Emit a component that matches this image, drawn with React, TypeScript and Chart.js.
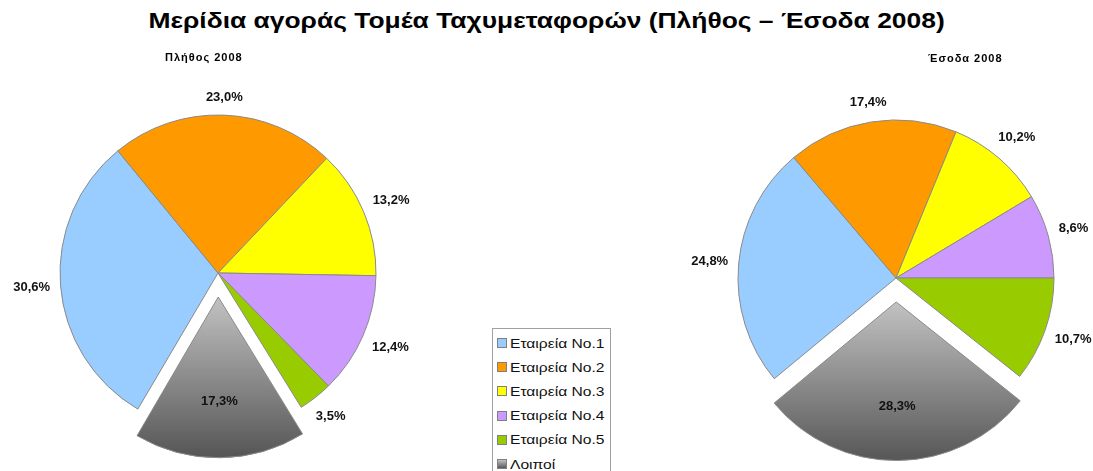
import React, { useEffect, useRef } from "react";
import { Chart, registerables } from "chart.js";

Chart.register(...registerables);

const categories = ["Εταιρεία No.1", "Εταιρεία No.2", "Εταιρεία No.3", "Εταιρεία No.4", "Εταιρεία No.5", "Λοιποί"];
const countShares2008 = [30.6, 23.0, 13.2, 12.4, 3.5, 17.3];
const revenueShares2008 = [24.8, 17.4, 10.2, 8.6, 10.7, 28.3];
const sliceColors = ["#99CCFF", "#FF9900", "#FFFF00", "#CC99FF", "#99CC00"];
const greyTop = "#c2c2c2";
const greyBottom = "#575757";
const mainTitle = "Μερίδια αγοράς Τομέα Ταχυμεταφορών (Πλήθος – Έσοδα 2008)";
const leftTitle = "Πλήθος 2008";
const rightTitle = "Έσοδα 2008";

const RADIUS = 158;
const EXPLODE = 24; // pixels the "Λοιποί" slice is pulled out
const CW = 440;
const CH = 420;
const FONT = '"Liberation Sans", Arial, sans-serif';

const fmt = (v: number) => v.toFixed(1).replace(".", ",") + "%";

const labelPlugin = {
  id: "sliceLabels",
  afterDatasetsDraw(chart: any) {
    const ctx = chart.ctx as CanvasRenderingContext2D;
    const meta = chart.getDatasetMeta(0);
    const ds = chart.data.datasets[0];
    ctx.save();
    ctx.font = `bold 13px ${FONT}`;
    ctx.fillStyle = "#111";
    ctx.textAlign = "center";
    ctx.textBaseline = "middle";
    meta.data.forEach((arc: any, i: number) => {
      const p = arc.getProps(["x", "y", "startAngle", "endAngle", "outerRadius"], true);
      const mid = (p.startAngle + p.endAngle) / 2;
      const text = fmt(ds.data[i]);
      const off = ((ds.offset && ds.offset[i]) || 0) / 4;
      const c = Math.cos(mid);
      const s = Math.sin(mid);
      let d: number;
      if (off > 0) {
        d = off + p.outerRadius * 0.66;
      } else {
        const hw = ctx.measureText(text).width / 2;
        d = p.outerRadius + 10 + Math.abs(c) * hw + Math.abs(s) * 7;
      }
      ctx.fillText(text, p.x + c * d, p.y + s * d);
    });
    ctx.restore();
  },
};

function makeBg(ctxArg: any) {
  const i = ctxArg.dataIndex;
  if (i < sliceColors.length) return sliceColors[i];
  const chart = ctxArg.chart;
  const area = chart.chartArea;
  if (!area) return "#999999";
  const cy = (area.top + area.bottom) / 2;
  const g = chart.ctx.createLinearGradient(0, cy, 0, cy + RADIUS);
  g.addColorStop(0, greyTop);
  g.addColorStop(1, greyBottom);
  return g;
}

function PieCanvas({ values, rotation, left, top }: { values: number[]; rotation: number; left: number; top: number }) {
  const ref = useRef<HTMLCanvasElement | null>(null);
  useEffect(() => {
    if (!ref.current) return;
    const chart = new Chart(ref.current, {
      type: "pie",
      data: {
        labels: categories,
        datasets: [
          {
            data: values,
            backgroundColor: makeBg as any,
            borderColor: "#8a8a8a",
            borderWidth: 1,
            offset: values.map((_, i) => (i === values.length - 1 ? EXPLODE * 4 : 0)),
            hoverOffset: 0,
          } as any,
        ],
      },
      options: {
        responsive: false,
        animation: false,
        rotation,
        radius: RADIUS,
        layout: { padding: 0 },
        plugins: {
          legend: { display: false },
          title: { display: false },
          tooltip: { enabled: false },
        },
        events: [],
      } as any,
      plugins: [labelPlugin],
    });
    return () => chart.destroy();
  }, []);
  return (
    <canvas
      ref={ref}
      width={CW}
      height={CH}
      style={{ position: "absolute", left, top, width: CW, height: CH }}
    />
  );
}

export default function App() {
  return (
    <div
      style={{
        position: "absolute",
        left: 0,
        top: 0,
        width: 1093,
        height: 471,
        overflow: "hidden",
        background: "#ffffff",
        fontFamily: FONT,
      }}
    >
      <PieCanvas values={countShares2008} rotation={210.5} left={218 - CW / 2} top={273 - CH / 2} />
      <PieCanvas values={revenueShares2008} rotation={230.4} left={896 - CW / 2} top={278 - CH / 2} />
      <div
        style={{
          position: "absolute",
          left: 0,
          width: 1093,
          top: 7,
          textAlign: "center",
          fontWeight: "bold",
          fontSize: 22,
          lineHeight: "28px",
          color: "#000",
          whiteSpace: "nowrap",
          transform: "scaleX(1.2)",
          transformOrigin: "546px 0",
        }}
      >
        {mainTitle}
      </div>
      <div
        style={{
          position: "absolute",
          left: 165,
          top: 51,
          fontWeight: "bold",
          fontSize: 11,
          letterSpacing: 1,
          fontFamily: '"Liberation Sans Narrow", "Liberation Sans", Arial, sans-serif',
          color: "#000",
          whiteSpace: "nowrap",
        }}
      >
        {leftTitle}
      </div>
      <div
        style={{
          position: "absolute",
          left: 928,
          top: 52,
          fontWeight: "bold",
          fontSize: 11,
          letterSpacing: 1,
          fontFamily: '"Liberation Sans Narrow", "Liberation Sans", Arial, sans-serif',
          color: "#000",
          whiteSpace: "nowrap",
        }}
      >
        {rightTitle}
      </div>
      <div
        style={{
          position: "absolute",
          left: 492,
          top: 328,
          width: 119,
          height: 170,
          border: "1px solid #a0a0a0",
          boxSizing: "border-box",
          background: "#fff",
        }}
      >
        {categories.map((name, i) => (
          <div
            key={name}
            style={{
              position: "absolute",
              left: 4,
              top: 5 + i * 24.2,
              height: 18,
              display: "flex",
              alignItems: "center",
              whiteSpace: "nowrap",
            }}
          >
            <span
              style={{
                display: "inline-block",
                width: 8,
                height: 8,
                border: "1px solid #808080",
                background:
                  i < sliceColors.length
                    ? sliceColors[i]
                    : `linear-gradient(${greyTop}, ${greyBottom})`,
                marginRight: 3,
              }}
            />
            <span
              style={{
                display: "inline-block",
                fontSize: 13,
                color: "#111",
                transform: "scaleX(1.2)",
                transformOrigin: "0 50%",
              }}
            >
              {name}
            </span>
          </div>
        ))}
      </div>
    </div>
  );
}
